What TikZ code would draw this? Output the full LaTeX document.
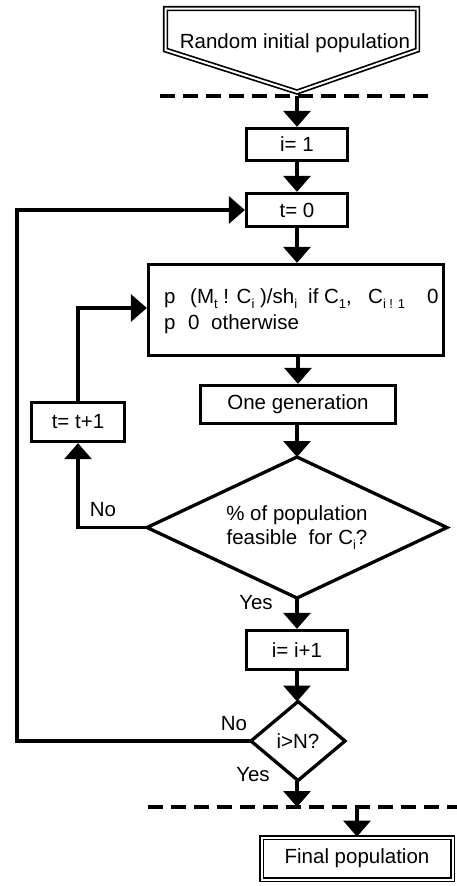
\documentclass[tikz,border=0pt]{standalone}
\usepackage{fontspec}
\setmainfont{Liberation Sans}
\usetikzlibrary{arrows.meta,shapes.geometric}
\newcommand\lowidx[1]{\raisebox{-5pt}{\fontsize{13}{13}\selectfont #1}}
\newcommand\fs{\fontsize{20.5}{24}\selectfont}
\tikzset{
  box/.style={draw, line width=3.3pt, inner sep=0pt, align=center},
  dbox/.style={draw, line width=1.7pt, double, double distance=2pt, inner sep=0pt},
  dia/.style={draw, diamond, line width=3.3pt, inner sep=0pt, outer sep=0pt, align=center},
  arr/.style={line width=3.3pt, -{Triangle[width=27pt,length=16pt]}},
  dash line/.style={line width=4pt, dash pattern=on 15pt off 8pt},
  lbl/.style={inner sep=0pt}
}
\begin{document}
\begin{tikzpicture}[x=1pt, y=-1pt, font=\fs]
\useasboundingbox (0,0) rectangle (457,886);
% start shape
\draw[line width=1.7pt, double, double distance=2pt]
  (165.5,50) -- (165.5,8.5) -- (417.5,8.5) -- (417.5,50) -- (297,92) -- cycle;
\node[lbl, anchor=base] (start) at (295,48) {Random initial population};
\draw[dash line] (160,96) -- (430,96);
\coordinate (tip) at (297,96);
% boxes
\node[box, minimum width=101pt, minimum height=32pt] (i1) at (297,144.5) {i= 1};
\node[box, minimum width=101pt, minimum height=33pt] (t0) at (297,210) {t= 0};
\node[box, minimum width=295pt, minimum height=91pt] (big) at (296,310) {};
\node[lbl, anchor=base west] (pa) at (164,303) {p};
\node[lbl, anchor=base west] (pb) at (190,303) {(M\lowidx{t} ! C\lowidx{i} )/sh\lowidx{i}};
\node[lbl, anchor=base west] (pc) at (308,303) {if C\lowidx{1},};
\node[lbl, anchor=base west] (pd) at (368,303) {C\lowidx{i ! 1}};
\node[lbl, anchor=base west] (pe) at (427,303) {0};
\node[lbl, anchor=base west] (qa) at (164,329) {p};
\node[lbl, anchor=base west] (qb) at (188,329) {0};
\node[lbl, anchor=base west] (qc) at (211,329) {otherwise};
\node[box, minimum width=195pt, minimum height=38pt] (gen) at (298,404.5) {One generation};
\node[box, minimum width=93pt, minimum height=39pt] (tt) at (78,422) {t= t+1};
\node[dia, aspect=2.13, minimum width=300pt, minimum height=141pt] (d1) at (297,527.5) {\% of population\\feasible~ for C\lowidx{i}?};
\node[box, minimum width=101pt, minimum height=39pt] (ii) at (297,650) {i= i+1};
\node[dia, aspect=1.19, minimum width=94pt, minimum height=79pt] (d2) at (298,741) {i>N?};
\draw[dash line] (148,807) -- (457,807);
\coordinate (bd) at (297,807);
\coordinate (fin) at (357,807);
\coordinate (lc) at (17,741);
\node[dbox, minimum width=191pt, minimum height=42pt] (fp) at (357,858.5) {Final population};
% labels
\node[lbl] (no1) at (103,510) {No};
\node[lbl] (yes1) at (256,603) {Yes};
\node[lbl] (no2) at (234,724) {No};
\node[lbl] (yes2) at (253,775) {Yes};
% connectors
\draw[arr] (tip) -- (i1.north);
\draw[arr] (i1.south) -- (t0.north);
\draw[arr] (t0.south) -- (big.north -| t0.south);
\draw[arr] (big.south -| gen.north) -- (gen.north);
\draw[arr] (gen.south -| d1.north) -- (d1.north);
\draw[arr] (d1.west) -| (tt.south);
\draw[arr] (tt.north) |- ([yshift=2pt]big.west);
\draw[arr] (d1.south) -- (ii.north -| d1.south);
\draw[arr] (ii.south) -- (d2.north -| ii.south);
\draw[arr] (d2.west) -- (lc) |- (t0.west);
\draw[arr] (d2.south -| bd) -- (bd);
\draw[arr] (fin) -- (fp.north);
\end{tikzpicture}
\end{document}
